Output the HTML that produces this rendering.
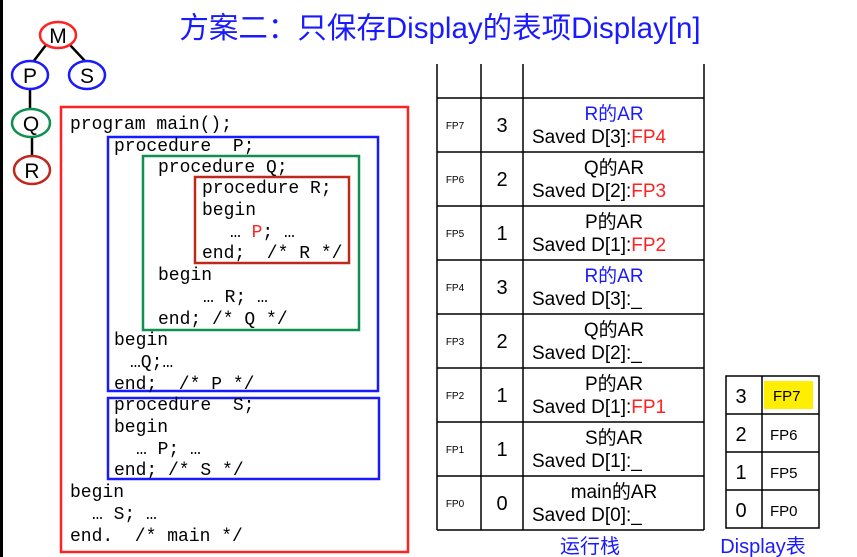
<!DOCTYPE html>
<html><head><meta charset="utf-8"><style>
html,body{margin:0;padding:0;background:#fff;width:857px;height:557px;overflow:hidden}
svg{display:block}
text{white-space:pre}
.c{font-family:"Liberation Mono","Noto Serif CJK SC",monospace;font-size:18px;fill:#000}
.s{font-family:"Liberation Sans","Noto Sans CJK SC",sans-serif}
</style></head><body>
<svg width="857" height="557" xmlns="http://www.w3.org/2000/svg" xml:space="preserve">
<rect x="0" y="0" width="3" height="557" fill="#000"/>
<text x="440" y="38" text-anchor="middle" class="s" font-size="29.5" fill="#1a1aff">方案二：只保存Display的表项Display[n]</text>
<g stroke="#000" stroke-width="2.5">
<line x1="46" y1="45" x2="33" y2="62"/><line x1="70" y1="45" x2="85" y2="61"/>
<line x1="30" y1="88" x2="30" y2="110"/><line x1="32" y1="136" x2="32" y2="157"/>
</g>
<g fill="#fff" stroke-width="2.5">
<ellipse cx="58" cy="35" rx="18" ry="13" stroke="#f22"/>
<ellipse cx="30" cy="75" rx="18" ry="14" stroke="#1a1aff"/>
<ellipse cx="87" cy="75" rx="18" ry="14" stroke="#1a1aff"/>
<ellipse cx="31" cy="123" rx="19" ry="14" stroke="#109050"/>
<ellipse cx="32" cy="170" rx="18" ry="14" stroke="#c0281e"/>
</g>
<g class="s" font-size="21" text-anchor="middle" fill="#000">
<text x="58" y="43">M</text><text x="30" y="83">P</text><text x="87" y="83">S</text>
<text x="31" y="131">Q</text><text x="32" y="178">R</text>
</g>
<g fill="none" stroke-width="2.5">
<rect x="61" y="107" width="347" height="445" stroke="#f22"/>
<rect x="108" y="137" width="270" height="254" stroke="#1a1aff"/>
<rect x="143" y="156" width="216" height="174" stroke="#109050"/>
<rect x="195" y="177" width="154" height="86" stroke="#c0281e"/>
<rect x="108" y="398" width="271" height="81" stroke="#1a1aff"/>
</g>
<g class="c">
<text x="70" y="129">program main();</text>
<text x="114" y="151">procedure  P;</text>
<text x="158" y="172">procedure Q;</text>
<text x="202" y="193">procedure R;</text>
<text x="202" y="215">begin</text>
<text x="230" y="237">… <tspan fill="#f22">P</tspan>; …</text>
<text x="202" y="258">end;  /* R */</text>
<text x="158" y="280">begin</text>
<text x="203" y="302">… R; …</text>
<text x="158" y="324">end; /* Q */</text>
<text x="114" y="345">begin</text>
<text x="130" y="367">…Q;…</text>
<text x="114" y="389">end;  /* P */</text>
<text x="114" y="410">procedure  S;</text>
<text x="114" y="432">begin</text>
<text x="136" y="454">… P; …</text>
<text x="114" y="475">end; /* S */</text>
<text x="70" y="497">begin</text>
<text x="92" y="519">… S; …</text>
<text x="70" y="541">end.  /* main */</text>
</g>
<g stroke="#000" stroke-width="1.5" fill="none">
<line x1="437" y1="64" x2="437" y2="530"/><line x1="481" y1="64" x2="481" y2="530"/>
<line x1="523" y1="64" x2="523" y2="530"/><line x1="704" y1="64" x2="704" y2="530"/>
<line x1="437" y1="98" x2="704" y2="98"/><line x1="437" y1="152" x2="704" y2="152"/>
<line x1="437" y1="206" x2="704" y2="206"/><line x1="437" y1="260" x2="704" y2="260"/>
<line x1="437" y1="314" x2="704" y2="314"/><line x1="437" y1="368" x2="704" y2="368"/>
<line x1="437" y1="422" x2="704" y2="422"/><line x1="437" y1="476" x2="704" y2="476"/>
<line x1="437" y1="530" x2="704" y2="530"/>
</g>
<g class="s" fill="#000">
<g font-size="10" text-anchor="middle">
<text x="455" y="129">FP7</text><text x="455" y="183">FP6</text><text x="455" y="237">FP5</text>
<text x="455" y="291">FP4</text><text x="455" y="345">FP3</text><text x="455" y="399">FP2</text>
<text x="455" y="453">FP1</text><text x="455" y="507">FP0</text>
</g>
<g font-size="20" text-anchor="middle">
<text x="502" y="132">3</text><text x="502" y="186">2</text><text x="502" y="240">1</text>
<text x="502" y="294">3</text><text x="502" y="348">2</text><text x="502" y="402">1</text>
<text x="502" y="456">1</text><text x="502" y="510">0</text>
</g>
<g font-size="19">
<text x="614" y="120" text-anchor="middle" fill="#1a1aff">R的AR</text>
<text x="532" y="143">Saved D[3]:<tspan fill="#f22">FP4</tspan></text>
<text x="614" y="174" text-anchor="middle">Q的AR</text>
<text x="532" y="197">Saved D[2]:<tspan fill="#f22">FP3</tspan></text>
<text x="614" y="228" text-anchor="middle">P的AR</text>
<text x="532" y="251">Saved D[1]:<tspan fill="#f22">FP2</tspan></text>
<text x="614" y="282" text-anchor="middle" fill="#1a1aff">R的AR</text>
<text x="532" y="305">Saved D[3]:_</text>
<text x="614" y="336" text-anchor="middle">Q的AR</text>
<text x="532" y="359">Saved D[2]:_</text>
<text x="614" y="390" text-anchor="middle">P的AR</text>
<text x="532" y="413">Saved D[1]:<tspan fill="#f22">FP1</tspan></text>
<text x="614" y="444" text-anchor="middle">S的AR</text>
<text x="532" y="467">Saved D[1]:_</text>
<text x="614" y="498" text-anchor="middle">main的AR</text>
<text x="532" y="521">Saved D[0]:_</text>
</g>
<text x="590" y="553" text-anchor="middle" font-size="20" fill="#1a1aff">运行栈</text>
</g>
<rect x="764" y="381" width="49" height="28" fill="#ffee00"/>
<g stroke="#000" stroke-width="1.5" fill="none">
<rect x="726" y="376" width="93" height="152"/>
<line x1="762" y1="376" x2="762" y2="528"/>
<line x1="726" y1="414" x2="819" y2="414"/><line x1="726" y1="452" x2="819" y2="452"/>
<line x1="726" y1="490" x2="819" y2="490"/>
</g>
<g class="s" fill="#000">
<g font-size="20" text-anchor="middle">
<text x="741" y="403">3</text><text x="741" y="441">2</text><text x="741" y="479">1</text><text x="741" y="517">0</text>
</g>
<g font-size="15">
<text x="773" y="401">FP7</text><text x="770" y="440">FP6</text><text x="770" y="478">FP5</text><text x="770" y="516">FP0</text>
</g>
<text x="763" y="553" text-anchor="middle" font-size="20" fill="#1a1aff">Display表</text>
</g>
</svg>
</body></html>
